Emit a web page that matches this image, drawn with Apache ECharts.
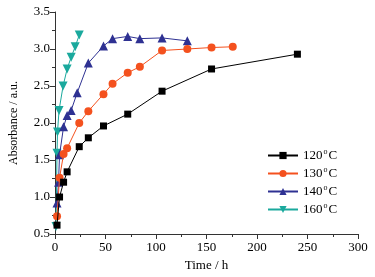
<!DOCTYPE html>
<html><head><meta charset="utf-8">
<script src="https://cdn.jsdelivr.net/npm/echarts@6/dist/echarts.min.js"></script>
<style>html,body{margin:0;padding:0;background:#fff}#c{width:375px;height:277px}</style>
</head><body><div id="c"></div>
<script>
var seriesNames = ['120', '130', '140', '160'];
var s120 = [[2,0.62],[4.5,1.0],[8.5,1.2],[12,1.34],[24,1.68],[33,1.8],[48,1.96],[72,2.12],[106,2.43],[155,2.73],[240,2.93]];
var s130 = [[2,0.74],[4.5,1.26],[8.5,1.58],[12,1.66],[24,2.0],[33,2.16],[48,2.39],[57,2.53],[72,2.68],[84,2.76],[106,2.98],[131,3.0],[155,3.02],[176,3.03]];
var s140 = [[2,0.92],[3.5,1.2],[4.5,1.57],[8.5,1.95],[12,2.1],[16,2.17],[22,2.41],[33,2.81],[48,3.04],[57,3.14],[72,3.17],[84,3.14],[106,3.15],[131,3.11]];
var s160 = [[1,0.6],[2,1.59],[2.5,1.88],[4,2.17],[8,2.5],[12,2.73],[16,2.89],[20,3.03],[24,3.19]];
var xTicks = [0,50,100,150,200,250,300];
var yTicks = [0.5,1.0,1.5,2.0,2.5,3.0,3.5];

var font = 'Liberation Serif';
var colors = ['#000000', '#f4511e', '#2e3192', '#1aa99d'];
var symbols = ['rect', 'circle', 'triangle', 'triangle'];
var sizes = [7, 8, 9, 9];
var rots = [0, 0, 0, 180];
var datas = [s120, s130, s140, s160];

var chart = echarts.init(document.getElementById('c'));
chart.setOption({
  animation: false,
  grid: {left: 53, right: 17, top: 12, bottom: 43},
  legend: {
    left: 262, top: 143, orient: 'vertical', itemGap: 4, itemWidth: 30, itemHeight: 9,
    data: seriesNames.map(function(n){return n;}),
    formatter: function(n){ return '{a|' + n + '}{s|o}{a|C}'; },
    textStyle: {
      fontFamily: font, color: '#000', fontSize: 13,
      rich: {a: {fontFamily: font, fontSize: 13, color: '#000'},
             s: {fontFamily: font, fontSize: 8, color: '#000', verticalAlign: 'top', padding: [0,1,7,1]}}
    }
  },
  xAxis: {
    type: 'value', min: xTicks[0], max: xTicks[xTicks.length-1], interval: 50,
    name: 'Time / h', nameLocation: 'middle', nameGap: 22,
    nameTextStyle: {fontFamily: font, fontSize: 13, color: '#000'},
    axisLine: {lineStyle: {color: '#333', width: 1}},
    axisTick: {show: true, length: 5, inside: false, lineStyle: {color: '#333'}},
    minorTick: {show: true, splitNumber: 2, length: 3, lineStyle: {color: '#333'}},
    splitLine: {show: false},
    axisLabel: {fontFamily: font, fontSize: 13, color: '#000', margin: 7}
  },
  yAxis: {
    type: 'value', min: yTicks[0], max: yTicks[yTicks.length-1], interval: 0.5,
    name: 'Absorbance / a.u.', nameLocation: 'middle', nameGap: 35,
    nameTextStyle: {fontFamily: font, fontSize: 12, color: '#000'},
    axisLine: {show: true, lineStyle: {color: '#333', width: 1}},
    axisTick: {show: true, length: 5, inside: false, lineStyle: {color: '#333'}},
    minorTick: {show: true, splitNumber: 2, length: 3, lineStyle: {color: '#333'}},
    splitLine: {show: false},
    axisLabel: {fontFamily: font, fontSize: 13, color: '#000', margin: 5,
      formatter: function(v){ return v.toFixed(1); }}
  },
  series: seriesNames.map(function(n, i){
    return {
      name: n, type: 'line', data: datas[i],
      symbol: symbols[i], symbolSize: sizes[i], symbolRotate: rots[i],
      lineStyle: {color: colors[i], width: 1},
      itemStyle: {color: colors[i]},
      z: 10 - i
    };
  })
});
</script></body></html>
